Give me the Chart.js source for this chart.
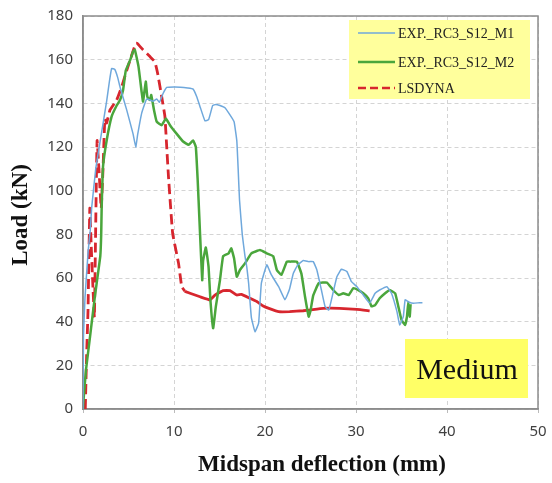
<!DOCTYPE html>
<html>
<head>
<meta charset="utf-8">
<script src="https://cdn.jsdelivr.net/npm/chart.js@4/dist/chart.umd.min.js"></script>
<style>
  body { margin: 0; background: #fff; }
  canvas { display: block; }
</style>
</head>
<body>
<canvas id="myChart" width="552" height="483"></canvas>
<script>
// --- data (deflection mm, load kN) ---
var xTicks = [0, 10, 20, 30, 40, 50];
var yTicks = [0, 20, 40, 60, 80, 100, 120, 140, 160, 180];
var seriesNames = ['EXP._RC3_S12_M1', 'EXP._RC3_S12_M2', 'LSDYNA'];

var m1X = [0, 0.05, 0.22, 0.58, 0.8, 0.95, 1.4, 1.9, 2.6, 2.9, 3.15, 3.5, 3.8, 4.1, 4.8, 5.5, 5.8, 6.0, 6.45, 7.0, 7.7, 8.1, 8.4, 8.8, 9.2, 10.0, 10.7, 11.5, 12.1, 12.5, 12.9, 13.4, 13.8, 14.25, 14.6, 15.05, 15.6, 16.15, 16.6, 16.9, 17.05, 17.2, 17.5, 17.8, 18.0, 18.2, 18.5, 18.9, 19.3, 19.6, 20.2, 20.7, 21.5, 22.2, 22.7, 23.1, 23.6, 24.2, 24.8, 25.3, 25.7, 26.2, 26.6, 27.0, 27.3, 27.9, 28.4, 29.0, 29.5, 30.1, 30.8, 31.5, 32.1, 32.6, 33.4, 33.9, 34.5, 34.8, 35.2, 35.4, 35.8, 36.3, 37.0, 37.3];
var m1Y = [0, 33, 51, 73, 82, 92, 110, 123, 141, 150, 156, 155.5, 152, 147, 137, 126, 120, 125.5, 135.5, 142, 141, 142, 140.5, 144.5, 147.3, 147.5, 147.4, 147, 146.5, 143, 138, 132, 132.5, 139, 139.5, 139, 138, 134.7, 131.6, 123, 110, 95.7, 80, 70, 65, 57.6, 42, 35.4, 39.3, 57.6, 66, 61.4, 56, 50, 55, 62, 66, 68, 67.5, 67.5, 63.7, 54.5, 47, 45.3, 50, 60.6, 64, 63, 58.3, 56, 52.2, 48.5, 53, 54.5, 56, 53, 44.6, 38.5, 42.3, 50, 49, 48.4, 48.7, 48.7];

var m2X = [0, 0.03, 0.33, 0.77, 1.3, 1.9, 2.0, 2.05, 2.2, 2.6, 3.15, 3.7, 4.07, 4.4, 4.7, 5.2, 5.5, 5.7, 6.1, 6.45, 6.6, 6.9, 7.07, 7.36, 7.5, 7.8, 8.1, 8.65, 9.1, 9.56, 10.3, 11.0, 11.6, 12.1, 12.4, 12.6, 12.7, 12.86, 13.1, 13.2, 13.5, 13.8, 14.0, 14.3, 14.6, 15.05, 15.4, 16.0, 16.3, 16.6, 16.9, 17.25, 17.8, 18.5, 19.45, 20.2, 20.9, 21.3, 21.8, 22.4, 22.75, 23.5, 24.0, 24.4, 24.8, 25.0, 25.3, 25.9, 26.8, 27.5, 28.1, 28.6, 29.2, 29.7, 30.25, 30.8, 31.35, 31.7, 32.1, 32.6, 33.2, 33.7, 34.3, 34.65, 35.0, 35.4, 35.6, 35.75, 35.9, 36.0];
var m2Y = [0, 2.7, 18, 33, 51.4, 70, 80, 92, 111, 123, 134, 139, 141.5, 146, 155, 160, 163.7, 164.5, 156.8, 145, 140.8, 150, 143, 141.5, 143.8, 137, 131.6, 130, 133, 130, 126, 122.5, 121, 123, 120, 105, 95.7, 80.5, 59, 68, 74, 65, 50, 37, 47, 59, 70, 71.3, 73.6, 69, 60.6, 63.7, 66.7, 71.3, 72.8, 71.3, 70, 63.7, 61.4, 67.5, 67.5, 67.5, 62, 51.4, 42.3, 45, 52, 57.6, 57.9, 54.5, 52.2, 53, 52.2, 55.3, 54.5, 53, 50.7, 47, 47.6, 50.7, 53, 54.5, 53, 47, 40.8, 38.5, 42.3, 49, 42.3, 48];

var lsX = [0.25, 0.4, 0.55, 0.65, 0.75, 0.9, 1.1, 1.25, 1.35, 1.45, 1.55, 1.75, 2.0, 2.2, 2.4, 2.6, 2.97, 3.7, 4.25, 4.8, 5.35, 5.8, 5.95, 6.6, 7.36, 7.9, 8.2, 8.65, 9.0, 9.2, 9.4, 9.85, 10.5, 10.85, 11.2, 11.76, 12.86, 13.96, 14.5, 15.4, 16.15, 16.9, 17.4, 18.35, 19.1, 19.8, 20.5, 21.5, 22.7, 24.2, 24.9, 26.4, 28.2, 30.1, 31.5];
var lsY = [0, 25, 45, 70, 92, 75, 55, 42, 70, 100, 123, 110, 92, 110, 133, 131, 137, 141.5, 147.6, 155, 162, 167.5, 167.5, 164.5, 161.4, 159, 153.8, 143, 134, 120, 106, 80.5, 66.7, 56, 54, 53, 51.4, 50, 52.2, 54.2, 54.2, 52.2, 52.5, 50.7, 49.2, 47.2, 46, 44.6, 44.6, 45, 45.3, 46.1, 46.1, 45.6, 44.9];

function pts(xs, ys) {
  return xs.map(function (x, i) { return { x: x, y: ys[i] }; });
}

var colors = ['#6fa8dc', '#4aa63c', '#d7262e'];

var framePlugin = {
  id: 'frame',
  beforeDatasetsDraw: function (chart) {
    var a = chart.chartArea, ctx = chart.ctx;
    ctx.save();
    ctx.strokeStyle = '#8c8c8c';
    ctx.lineWidth = 1.5;
    ctx.strokeRect(a.left, a.top, a.right - a.left, a.bottom - a.top);
    ctx.restore();
  },
  afterDraw: function (chart) {
    var ctx = chart.ctx;
    ctx.save();
    // axis titles
    ctx.fillStyle = '#111';
    ctx.font = 'bold 23px "Liberation Serif"';
    ctx.textAlign = 'center';
    ctx.textBaseline = 'middle';
    ctx.fillText('Midspan deflection (mm)', 322, 465);
    ctx.translate(21, 215);
    ctx.rotate(-Math.PI / 2);
    ctx.fillText('Load (kN)', 0, 0);
    ctx.restore();

    // legend box
    ctx.save();
    ctx.fillStyle = '#ffff9c';
    ctx.fillRect(349, 20, 181, 79);
    var rows = [33, 62, 88];
    ctx.font = '14px "Liberation Serif"';
    ctx.textAlign = 'left';
    ctx.textBaseline = 'middle';
    chart.data.datasets.forEach(function (ds, i) {
      ctx.beginPath();
      ctx.strokeStyle = ds.borderColor;
      ctx.lineWidth = i === 0 ? 1.5 : 2.5;
      ctx.setLineDash(i === 2 ? [8, 4] : []);
      ctx.moveTo(358, rows[i]);
      ctx.lineTo(395, rows[i]);
      ctx.stroke();
      ctx.setLineDash([]);
      ctx.fillStyle = '#222';
      ctx.fillText(ds.label, 398, rows[i] + 1);
    });
    // "Medium" tag
    ctx.fillStyle = '#ffff66';
    ctx.fillRect(405, 339, 123, 59);
    ctx.fillStyle = '#111';
    ctx.font = '30px "Liberation Serif"';
    ctx.textAlign = 'center';
    ctx.fillText('Medium', 467, 371);
    ctx.restore();
  }
};

var myChart = new Chart('myChart', {
  type: 'scatter',
  data: {
    datasets: [
      {
        label: seriesNames[0],
        data: pts(m1X, m1Y),
        showLine: true,
        borderColor: colors[0],
        borderWidth: 1.5,
        pointRadius: 0,
        tension: 0.1,
      },
      {
        label: seriesNames[1],
        data: pts(m2X, m2Y),
        showLine: true,
        borderColor: colors[1],
        borderWidth: 2.5,
        pointRadius: 0,
        tension: 0.1,
      },
      {
        label: seriesNames[2],
        data: pts(lsX, lsY),
        showLine: true,
        borderColor: colors[2],
        borderWidth: 2.8,
        pointRadius: 0,
        tension: 0.1,
        borderDash: [10, 5],
        segment: {
          borderDash: function (c) { return c.p0.parsed.x >= 11.2 ? [] : [10, 5]; },
        },
      },
    ],
  },
  options: {
    responsive: false,
    animation: false,
    layout: { padding: { top: 16, right: 14, left: 0, bottom: 0 } },
    plugins: { legend: { display: false }, tooltip: { enabled: false } },
    scales: {
      x: {
        type: 'linear',
        min: 0,
        max: 50,
        afterBuildTicks: function (s) { s.ticks = xTicks.map(function (v) { return { value: v }; }); },
        afterFit: function (s) { s.height = 74; s.paddingRight = 0; s.paddingLeft = 0; },
        ticks: { color: '#404040', font: { family: 'Noto Sans', size: 15 }, padding: 10, maxRotation: 0 },
        grid: { color: '#d4d4d4', lineWidth: 1, tickLength: 4, tickColor: '#bbb' },
        border: { color: '#8c8c8c', width: 1.5, dash: [4, 3] },
      },
      y: {
        min: 0,
        max: 180,
        afterBuildTicks: function (s) { s.ticks = yTicks.map(function (v) { return { value: v }; }); },
        afterFit: function (s) { s.width = 83; s.paddingTop = 0; s.paddingBottom = 0; },
        ticks: { color: '#404040', font: { family: 'Noto Sans', size: 15 }, padding: 10 },
        grid: { color: '#d4d4d4', lineWidth: 1, tickLength: 0 },
        border: { color: '#8c8c8c', width: 1.5, dash: [4, 3] },
      },
    },
  },
  plugins: [framePlugin],
});
</script>
</body>
</html>
